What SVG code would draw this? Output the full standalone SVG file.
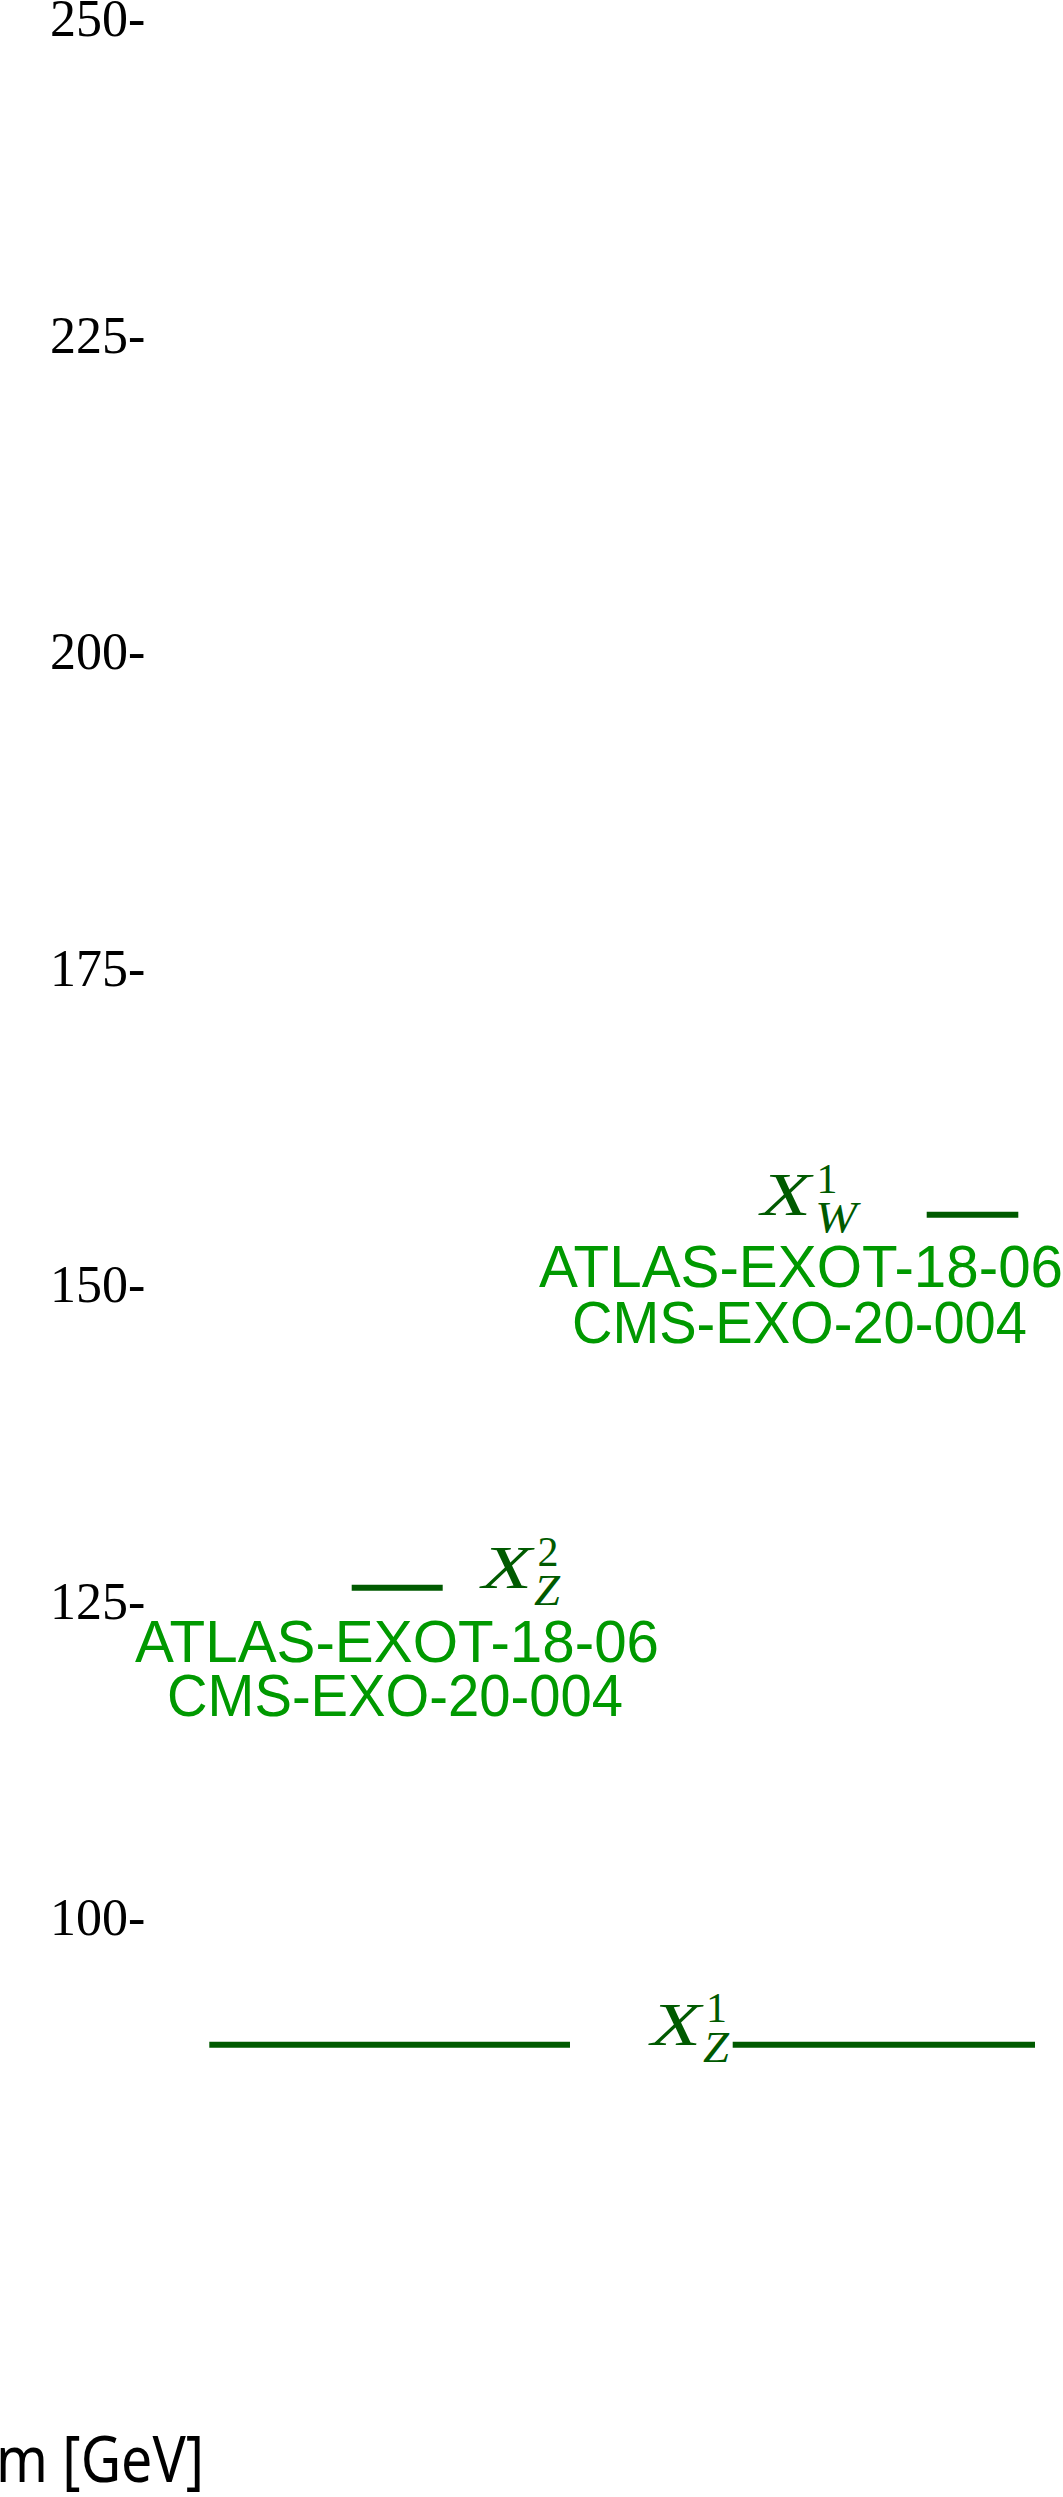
<svg xmlns="http://www.w3.org/2000/svg" width="1063" height="2497" viewBox="0 0 1063 2497">
<style>
.tick{font-family:"Liberation Serif","DejaVu Serif",serif;font-size:52px;fill:#000}
.lvl{stroke:#005a00;stroke-width:6;fill:none}
.math{font-family:"Liberation Serif","DejaVu Serif",serif;fill:#005a00}
.mi{font-style:italic}
.ref{font-family:"Liberation Sans","DejaVu Sans",sans-serif;font-size:60px;fill:#009900}
.axis{font-family:"Noto Sans","Open Sans",sans-serif;font-size:63px;fill:#000}
</style>
<rect width="1063" height="2497" fill="#fff"/>
<g id="axis">
<text class="tick" x="50" y="36">250-</text>
<text class="tick" x="50" y="352.5">225-</text>
<text class="tick" x="50" y="669">200-</text>
<text class="tick" x="50" y="985.5">175-</text>
<text class="tick" x="50" y="1302">150-</text>
<text class="tick" x="50" y="1618.5">125-</text>
<text class="tick" x="50" y="1935">100-</text>
<text class="axis" x="-4" y="2482" textLength="208" lengthAdjust="spacingAndGlyphs">m [GeV]</text>
</g>
<g id="connectors">
<line class="lvl" x1="926.7" y1="1214.7" x2="1018.3" y2="1214.7"/>
<line class="lvl" x1="351.7" y1="1587.7" x2="442.7" y2="1587.7"/>
<line class="lvl" x1="209.3" y1="2044.7" x2="570" y2="2044.7"/>
<line class="lvl" x1="732.7" y1="2044.7" x2="1035" y2="2044.7"/>
</g>
<g id="node-XW1">
<text class="math mi" x="761" y="1215" font-size="62" textLength="50" lengthAdjust="spacingAndGlyphs">X</text>
<text class="math" x="827" y="1193" font-size="42" text-anchor="middle">1</text>
<text class="math mi" x="815" y="1231.7" font-size="44" textLength="42" lengthAdjust="spacingAndGlyphs">W</text>
<text class="ref" x="539" y="1286.7" textLength="524" lengthAdjust="spacingAndGlyphs">ATLAS-EXOT-18-06</text>
<text class="ref" x="572" y="1342.7" textLength="455" lengthAdjust="spacingAndGlyphs">CMS-EXO-20-004</text>
</g>
<g id="node-XZ2">
<text class="math mi" x="482" y="1588.3" font-size="62" textLength="50" lengthAdjust="spacingAndGlyphs">X</text>
<text class="math" x="548" y="1565.7" font-size="42" text-anchor="middle">2</text>
<text class="math mi" x="534" y="1605" font-size="44" textLength="26" lengthAdjust="spacingAndGlyphs">Z</text>
<text class="ref" x="135" y="1661.7" textLength="524" lengthAdjust="spacingAndGlyphs">ATLAS-EXOT-18-06</text>
<text class="ref" x="167" y="1716" textLength="456" lengthAdjust="spacingAndGlyphs">CMS-EXO-20-004</text>
</g>
<g id="node-XZ1">
<text class="math mi" x="651" y="2045" font-size="62" textLength="50" lengthAdjust="spacingAndGlyphs">X</text>
<text class="math" x="716.5" y="2022" font-size="42" text-anchor="middle">1</text>
<text class="math mi" x="703" y="2061.7" font-size="44" textLength="26" lengthAdjust="spacingAndGlyphs">Z</text>
</g>
</svg>
